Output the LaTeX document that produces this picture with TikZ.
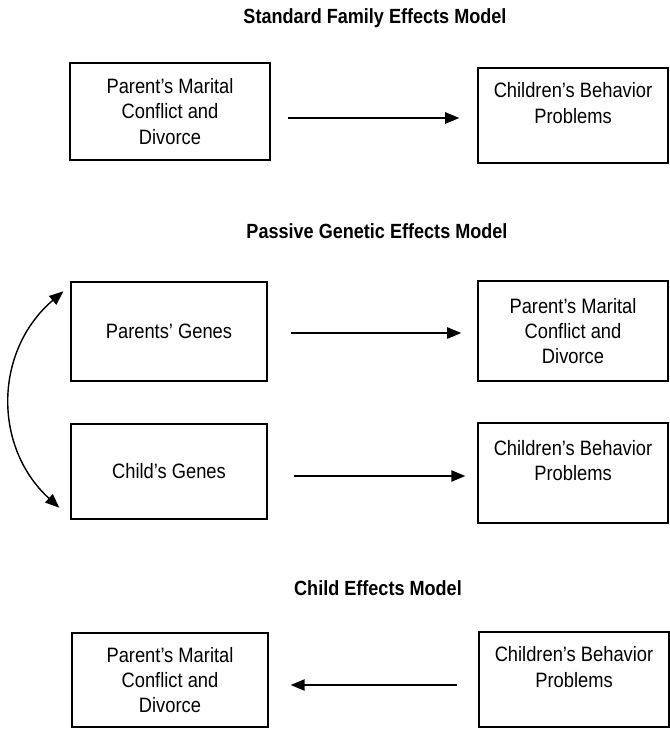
\documentclass[tikz,border=0pt]{standalone}
\usepackage{fontspec}
\setmainfont{Liberation Sans}[FakeStretch=0.88]
\usetikzlibrary{arrows.meta}

\tikzset{
  box/.style={draw, line width=1pt, align=center, inner sep=0pt,
    font=\fontsize{14.8}{18}\selectfont},
  boxsize/.style 2 args={minimum width=#1*0.025cm, minimum height=#2*0.025cm},
  heading/.style={font=\fontsize{14.6}{17}\selectfont\bfseries},
  link/.style={line width=1.2pt, -{Triangle[length=10pt,width=8pt]}},
  bothlink/.style={line width=1pt, {Triangle[length=10pt,width=8pt]}-{Triangle[length=10pt,width=8pt]}}
}

\begin{document}
\begin{tikzpicture}[x=0.025cm,y=-0.025cm]
      \useasboundingbox (0,0) rectangle (670,730);

      % titles
      \node[heading] (t1) at (375,18) {Standard Family Effects Model};
      \node[heading] (t2) at (377,231) {Passive Genetic Effects Model};
      \node[heading] (t3) at (378,588) {Child Effects Model};

      % boxes
      \node[box, boxsize={200}{97}] (a1) at (170,111.5) {Parent's Marital\\Conflict and\\Divorce};
      \node[box, boxsize={190}{95}] (b1) at (573,115.5) {Children's Behavior\\Problems\\\mbox{}};
      \node[box, boxsize={196}{99}] (a2) at (169,331.5) {Parents' Genes};
      \node[box, boxsize={190}{100}] (b2) at (573,331) {Parent's Marital\\Conflict and\\Divorce};
      \node[box, boxsize={196}{95}] (a3) at (169,471.5) {Child's Genes};
      \node[box, boxsize={190}{100}] (b3) at (573,473) {Children's Behavior\\Problems\\\mbox{}};
      \node[box, boxsize={196}{94}] (a4) at (170,680) {Parent's Marital\\Conflict and\\Divorce};
      \node[box, boxsize={190}{95}] (b4) at (574,679.5) {Children's Behavior\\Problems\\\mbox{}};

      \foreach \s/\e/\y/\p/\q in {
        a1.east/b1.west/118/12.1/12.8,
        a2.east/b2.west/333/16.4/11.4,
        a3.east/b3.west/476/18.5/8.5,
        b4.west/a4.east/685/14.9/15.6
      }
      {
        \draw[link, shorten <=\p pt, shorten >=\q pt] (\s |- 0,\y) -- (\e |- 0,\y);
      }

      \draw[bothlink] ([shift={(-7,10)}]a2.north west)
        .. controls +(-70,60) and +(-66,-60) .. ([shift={(-11,-12)}]a3.south west);

    \end{tikzpicture}
\end{document}
